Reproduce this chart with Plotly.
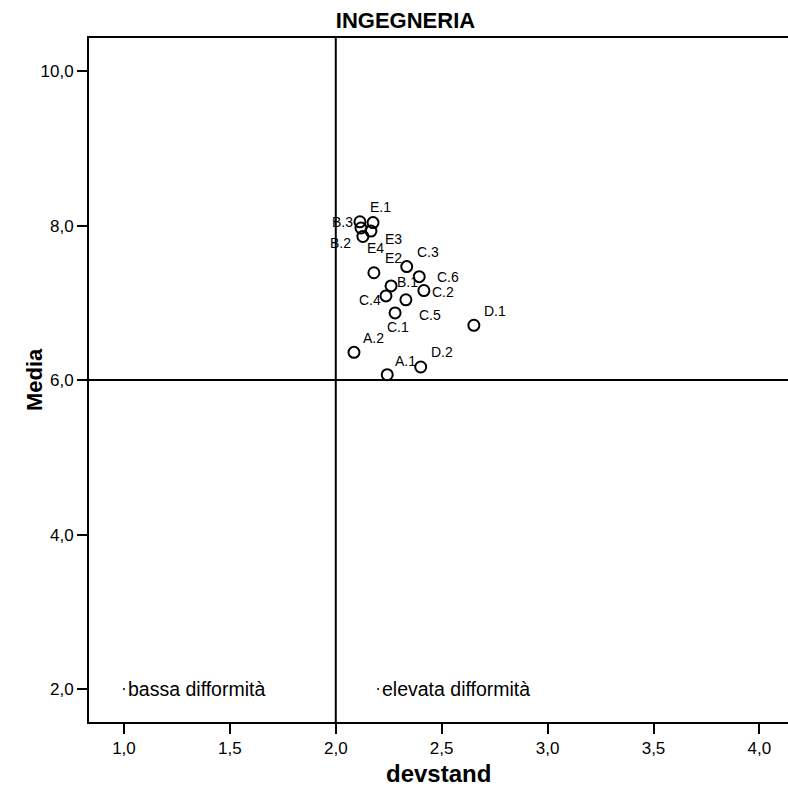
import plotly.graph_objects as go

# ---- data ----
labels = ["E.1", "B.3", "E4", "B.2", "E3", "C.3", "E2", "C.2", "C.6",
          "B.1", "C.4", "C.5", "C.1", "D.1", "A.2", "D.2", "A.1"]
devstand = [2.176, 2.114, 2.119, 2.128, 2.166, 2.335, 2.180, 2.394, 2.416,
            2.261, 2.237, 2.331, 2.280, 2.652, 2.086, 2.401, 2.243]
media = [8.04, 8.05, 7.97, 7.86, 7.93, 7.47, 7.39, 7.34, 7.16,
         7.22, 7.09, 7.04, 6.87, 6.71, 6.36, 6.17, 6.07]

zone_labels = ["bassa difformità", "elevata difformità"]
zone_x = [1.0, 2.2]
zone_y = [2.0, 2.0]

ref_x = 2.0
ref_y = 6.0

x_ticks = [1.0, 1.5, 2.0, 2.5, 3.0, 3.5, 4.0]
y_ticks = [2.0, 4.0, 6.0, 8.0, 10.0]

# label placement styles (pixel offsets, anchor) per point
label_style = [
    (-5, 15.5, "left"), (-5, 0, "right"), (4, -20, "left"), (-10, -6.5, "right"),
    (12, -8, "left"), (8, 14.7, "left"), (9, 14.7, "left"), (11, -15.3, "left"),
    (11, 13.7, "left"), (4, 3.7, "left"), (-3, -4, "right"), (11, -15, "left"),
    (-10, -14, "left"), (8, 14.5, "left"), (7, 14.8, "left"), (8, 15, "left"),
    (6, 14, "left"),
]

FONT = "Liberation Sans, Arial, sans-serif"
W, H = 788, 789
L, T, B = 89, 38, 67

fig = go.Figure()

fig.add_trace(go.Scatter(
    x=devstand, y=media, mode="markers",
    marker=dict(symbol="circle-open", size=11, color="black",
                line=dict(color="black", width=2)),
    hoverinfo="skip", showlegend=False, cliponaxis=False,
))

fig.add_trace(go.Scatter(
    x=zone_x, y=zone_y, mode="markers",
    marker=dict(symbol="circle", size=2, color="black"),
    hoverinfo="skip", showlegend=False,
))

for lab, xv, yv, (dx, dy, anc) in zip(labels, devstand, media, label_style):
    fig.add_annotation(x=xv, y=yv, text=lab, showarrow=False,
                       xanchor=anc, yanchor="middle", xshift=dx, yshift=dy,
                       font=dict(family=FONT, size=14, color="black"))

for lab, xv, yv in zip(zone_labels, zone_x, zone_y):
    fig.add_annotation(x=xv, y=yv, text=lab, showarrow=False,
                       xanchor="left", yanchor="middle", xshift=2,
                       font=dict(family=FONT, size=19.5, color="black"))

# axis titles
fig.add_annotation(xref="paper", yref="paper", x=0.5, y=0, yshift=-(773 - (H - B)),
                   xanchor="center", yanchor="middle", showarrow=False,
                   text="<b>devstand</b>", font=dict(family=FONT, size=24, color="black"))
fig.add_annotation(xref="paper", yref="paper", x=0, y=0.5, xshift=-(L - 34),
                   xanchor="center", yanchor="middle", showarrow=False, textangle=-90,
                   text="<b>Media</b>", font=dict(family=FONT, size=22, color="black"))

fig.add_shape(type="line", xref="x", yref="paper", x0=ref_x, x1=ref_x, y0=0, y1=1,
              line=dict(color="black", width=2))
fig.add_shape(type="line", xref="paper", yref="y", x0=0, x1=1, y0=ref_y, y1=ref_y,
              line=dict(color="black", width=2))

fig.update_layout(
    width=W, height=H,
    margin=dict(l=L, r=0, t=T, b=B),
    plot_bgcolor="white", paper_bgcolor="white",
    font=dict(family=FONT, color="black"),
    title=dict(text="<b>INGEGNERIA</b>", xref="container", x=405.5 / W,
               xanchor="center", yref="container", y=1 - 20.5 / H, yanchor="middle",
               font=dict(family=FONT, size=22, color="black")),
)

fig.update_xaxes(
    range=[0.835, 4.135], tickvals=x_ticks,
    ticktext=[f"{v:.1f}".replace(".", ",") for v in x_ticks],
    showgrid=False, zeroline=False,
    showline=True, linecolor="black", linewidth=2, mirror=True,
    ticks="outside", ticklen=10, tickwidth=2, tickcolor="black",
    tickfont=dict(family=FONT, size=17, color="black"),
)
fig.update_yaxes(
    range=[1.573, 10.43], tickvals=y_ticks,
    ticktext=[f"{v:.1f}".replace(".", ",") for v in y_ticks],
    showgrid=False, zeroline=False,
    showline=True, linecolor="black", linewidth=2, mirror=False,
    ticks="outside", ticklen=10, tickwidth=2, tickcolor="black",
    tickfont=dict(family=FONT, size=17, color="black"),
)

fig.write_html(
    "out.html",
    config={"displayModeBar": False},
    post_script="document.body.style.margin='0';document.body.style.overflow='hidden';",
)
